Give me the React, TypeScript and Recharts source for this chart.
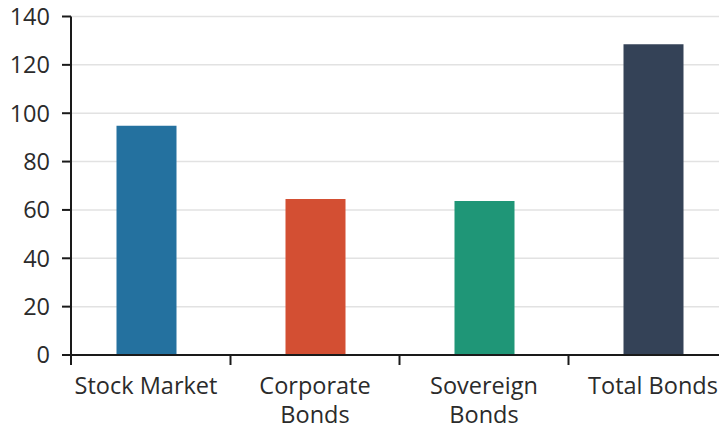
import { Bar, BarChart, CartesianGrid, Cell, XAxis, YAxis } from "recharts"

const categories = ["Stock Market", "Corporate\nBonds", "Sovereign\nBonds", "Total Bonds"]
const values = [94.8, 64.5, 63.7, 128.5]
const barColors = ["#24719f", "#d34f33", "#1f9677", "#344257"]
const yTicks = [0, 20, 40, 60, 80, 100, 120, 140]

const data = categories.map((name, i) => ({ name, value: values[i] }))

const FONT = "'Open Sans', sans-serif"
const TEXT = "#2b2b2b"
const AXIS = "#1a1a1a"
const EDGE_SHIFT = 9.5

function CategoryTick(props: any) {
  const { x, y, payload, index } = props
  const half = payload.offset ?? 84.5
  const lines = String(payload.value).split("\n")
  const edge = index === 0 ? x - half + EDGE_SHIFT : x - half
  return (
    <g>
      <line x1={edge} y1={y - 10} x2={edge} y2={y} stroke={AXIS} strokeWidth={2} />
      <text
        x={x}
        y={y}
        textAnchor="middle"
        fill={TEXT}
        fontFamily={FONT}
        fontSize={23.5}
      >
        {lines.map((line, i) => (
          <tspan key={i} x={x} dy={i === 0 ? 28.5 : 29.5}>
            {line}
          </tspan>
        ))}
      </text>
    </g>
  )
}

export default function App() {
  return (
    <div
      style={{
        position: "absolute",
        left: 0,
        top: 0,
        width: 719,
        height: 428,
        overflow: "hidden",
        background: "#fff",
      }}
    >
      <BarChart
        width={760}
        height={428}
        data={data}
        margin={{ top: 16.5, right: 22.5, left: 0, bottom: 0 }}
      >
        <CartesianGrid vertical={false} stroke="#e2e2e2" strokeWidth={1.5} />
        <XAxis
          dataKey="name"
          interval={0}
          height={73}
          padding={{ left: -EDGE_SHIFT, right: 0 }}
          tickLine={false}
          tickSize={10}
          tickMargin={0}
          axisLine={{ stroke: AXIS, strokeWidth: 2 }}
          tick={<CategoryTick />}
        />
        <YAxis
          width={71}
          domain={[0, 140]}
          ticks={yTicks}
          interval={0}
          tickSize={9}
          tickMargin={12}
          axisLine={{ stroke: AXIS, strokeWidth: 2 }}
          tickLine={{ stroke: AXIS, strokeWidth: 2 }}
          tick={{ fill: TEXT, fontFamily: FONT, fontSize: 23.5 }}
        />
        <Bar dataKey="value" barSize={60} isAnimationActive={false}>
          {data.map((d, i) => (
            <Cell key={d.name} fill={barColors[i]} />
          ))}
        </Bar>
      </BarChart>
    </div>
  )
}
